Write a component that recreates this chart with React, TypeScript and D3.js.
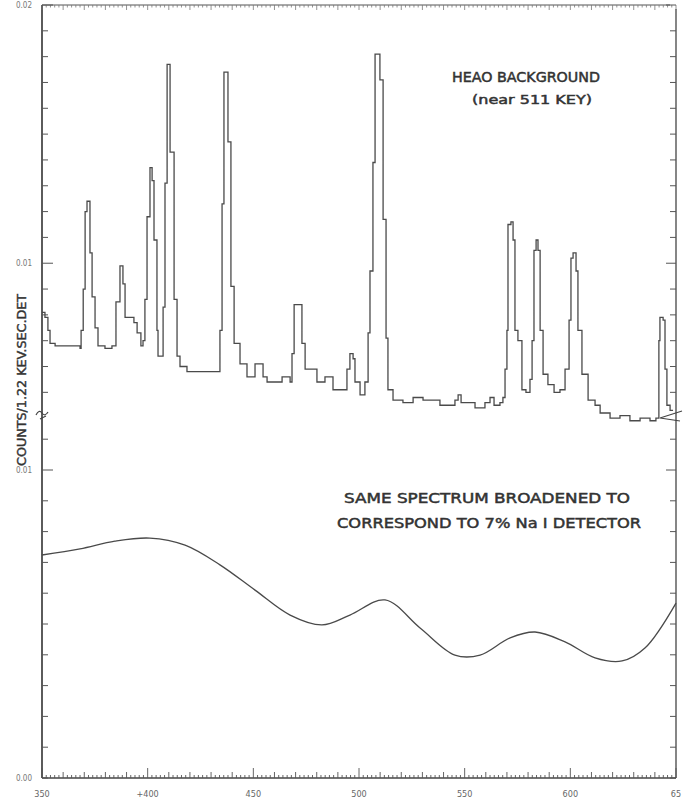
import React, { useEffect, useRef } from "react";
import * as d3 from "d3";

const W = 688;
const H = 803;

// HEAO raw background spectrum (upper trace)
const rawKeV = [
  350.0, 351.4, 352.8, 353.8, 356.2, 368.0, 368.5, 369.5, 370.4, 371.3, 372.7, 373.7, 375.1, 376.5,
  379.8, 383.1, 385.0, 386.9, 388.3, 389.3, 391.6, 393.5, 395.0, 396.8, 397.8, 398.7, 399.7, 401.1,
  402.1, 403.0, 404.4, 404.9, 406.8, 407.3, 408.2, 409.2, 410.1, 410.6, 412.5, 413.9, 415.3, 418.6,
  432.8, 434.2, 435.2, 436.1, 437.5, 438.0, 439.4, 440.9, 443.7, 447.0, 449.4, 450.8, 453.2, 454.6,
  456.5, 463.6, 467.4, 468.3, 469.3, 472.1, 473.0, 474.5, 480.1, 483.9, 487.7, 492.4, 494.3, 495.7,
  497.2, 498.1, 500.5, 502.8, 504.3, 505.2, 506.6, 507.6, 509.0, 509.9, 511.4, 512.8, 513.7, 516.1,
  520.8, 525.6, 530.3, 538.3, 543.1, 545.4, 546.9, 548.3, 554.9, 559.6, 562.0, 563.9, 566.7, 568.1,
  569.1, 570.0, 570.5, 571.9, 572.9, 573.8, 575.2, 577.1, 579.0, 580.9, 581.9, 582.8, 583.8, 584.7,
  585.7, 587.1, 589.4, 592.3, 595.1, 597.5, 599.4, 600.3, 601.3, 602.7, 603.6, 605.5, 608.4, 611.7,
  614.1, 618.8, 623.5, 628.2, 633.0, 637.7, 640.5, 641.9, 642.4, 643.9, 644.8, 645.7, 647.2, 648.6,
];
const rawCounts = [
  0.0081, 0.0079, 0.0074, 0.0069, 0.0068, 0.0067, 0.0074, 0.0090, 0.0120, 0.0124, 0.0104, 0.0087, 0.0075, 0.0068,
  0.0067, 0.0068, 0.0085, 0.0099, 0.0092, 0.0079, 0.0079, 0.0077, 0.0073, 0.0068, 0.0070, 0.0086, 0.0118, 0.0137,
  0.0132, 0.0109, 0.0074, 0.0064, 0.0064, 0.0083, 0.0131, 0.0177, 0.0177, 0.0143, 0.0086, 0.0064, 0.0060, 0.0058,
  0.0058, 0.0074, 0.0123, 0.0174, 0.0174, 0.0147, 0.0091, 0.0069, 0.0061, 0.0056, 0.0056, 0.0061, 0.0061, 0.0056,
  0.0054, 0.0056, 0.0054, 0.0065, 0.0084, 0.0084, 0.0069, 0.0059, 0.0054, 0.0056, 0.0051, 0.0051, 0.0059, 0.0065,
  0.0063, 0.0054, 0.0049, 0.0054, 0.0073, 0.0097, 0.0139, 0.0181, 0.0181, 0.0171, 0.0117, 0.0071, 0.0051, 0.0047,
  0.0046, 0.0048, 0.0047, 0.0045, 0.0045, 0.0047, 0.0049, 0.0046, 0.0044, 0.0046, 0.0048, 0.0045, 0.0046, 0.0048,
  0.0059, 0.0074, 0.0115, 0.0116, 0.0109, 0.0074, 0.0070, 0.0051, 0.0050, 0.0055, 0.0070, 0.0105, 0.0109, 0.0105,
  0.0074, 0.0057, 0.0053, 0.0050, 0.0051, 0.0059, 0.0078, 0.0102, 0.0104, 0.0097, 0.0074, 0.0057, 0.0047, 0.0045,
  0.0042, 0.0040, 0.0041, 0.0039, 0.0040, 0.0039, 0.0040, 0.0070, 0.0079, 0.0078, 0.0059, 0.0045, 0.0043, 0.0043,
];

// same spectrum broadened to 7% NaI resolution (lower trace)
const broadKeV = [350, 368, 384.5, 401, 417.7, 434.2, 450.8, 467.4, 482.5, 495.7, 512.3, 528.9, 545.4, 557.3, 571.5, 583.3, 597.5, 611.7, 624.5, 635.3, 650];
const broadCounts = [0.00724, 0.00744, 0.00769, 0.00779, 0.00756, 0.00692, 0.0061, 0.00529, 0.00497, 0.00529, 0.00578, 0.00487, 0.00399, 0.00399, 0.00455, 0.00474, 0.00442, 0.0039, 0.0038, 0.00422, 0.00568];

const xTickValues = [350, 400, 450, 500, 550, 600, 650];
const xTickLabels = ["350", "+400", "450", "500", "550", "600", "65"];

const upperLabelValues = [0.01, 0.02];
const upperLabels = ["0.01", "0.02"];
const lowerLabelValues = [0, 0.01];
const lowerLabels = ["0.00", "0.01"];

const ink = "#4a4a4a";
const plotFont = "DejaVu Sans Condensed, DejaVu Sans";

const App = () => {
  const ref = useRef(null);

  useEffect(() => {
    const svg = d3.select(ref.current);
    svg.selectAll("*").remove();

    const left = 42, right = 676, top = 5, bottom = 778, brk = 413;

    const x = d3.scaleLinear().domain([350, 650]).range([left, right]);
    const yUp = d3.scaleLinear().domain([0.0042, 0.02]).range([brk, top]);
    const yLo = d3.scaleLinear().domain([0, 0.01]).range([bottom, 470]);

    const g = svg.append("g");

    // frame
    g.append("line").attr("x1", left).attr("x2", left).attr("y1", top).attr("y2", bottom)
      .attr("stroke", "#333").attr("stroke-width", 1.6);
    g.append("line").attr("x1", right).attr("x2", right).attr("y1", top + 4).attr("y2", bottom)
      .attr("stroke", "#444").attr("stroke-width", 1.3);
    g.append("line").attr("x1", left).attr("x2", right - 6).attr("y1", top).attr("y2", top)
      .attr("stroke", "#555").attr("stroke-width", 1.1);
    g.append("line").attr("x1", left).attr("x2", right).attr("y1", bottom).attr("y2", bottom)
      .attr("stroke", "#444").attr("stroke-width", 1.3);

    // dense keV ticks along bottom and top
    const keVTicks = d3.range(350, 651, 2);
    const tickLen = (v: number) => (v % 50 === 0 ? 10 : v % 10 === 0 ? 6 : 3);
    g.append("g").selectAll("line").data(keVTicks).join("line")
      .attr("x1", d => x(d)).attr("x2", d => x(d))
      .attr("y1", bottom).attr("y2", d => bottom - tickLen(d))
      .attr("stroke", "#555").attr("stroke-width", 0.9);
    g.append("g").selectAll("line").data(keVTicks).join("line")
      .attr("x1", d => x(d)).attr("x2", d => x(d))
      .attr("y1", top).attr("y2", d => top + (d % 10 === 0 ? 5 : 2.5))
      .attr("stroke", "#777").attr("stroke-width", 0.8);

    g.append("g").selectAll("text").data(xTickValues).join("text")
      .attr("x", d => x(d)).attr("y", 797)
      .attr("text-anchor", "middle")
      .attr("font-family", plotFont)
      .attr("font-size", 9).attr("fill", "#666")
      .text((d, i) => xTickLabels[i]);

    // y ticks
    const upTicks = d3.range(5, 21).map(d => d / 1000);
    const loTicks = d3.range(0, 12).map(d => d / 1000);
    const isMajor = (v: number) => Math.abs(v * 100 - Math.round(v * 100)) < 1e-6;

    g.append("g").selectAll("line").data(upTicks).join("line")
      .attr("x1", left).attr("x2", d => left + (isMajor(d) ? 11 : 6))
      .attr("y1", d => yUp(d)).attr("y2", d => yUp(d))
      .attr("stroke", "#555").attr("stroke-width", 1);
    g.append("g").selectAll("line").data(upTicks).join("line")
      .attr("x1", right).attr("x2", d => right - (isMajor(d) ? 10 : 6))
      .attr("y1", d => yUp(d)).attr("y2", d => yUp(d))
      .attr("stroke", "#555").attr("stroke-width", 1);
    g.append("g").selectAll("line").data(loTicks).join("line")
      .attr("x1", left).attr("x2", d => left + (isMajor(d) && d > 0 ? 11 : 6))
      .attr("y1", d => yLo(d)).attr("y2", d => yLo(d))
      .attr("stroke", "#555").attr("stroke-width", 1);
    g.append("g").selectAll("line").data(loTicks).join("line")
      .attr("x1", right).attr("x2", d => right - (isMajor(d) && d > 0 ? 10 : 6))
      .attr("y1", d => yLo(d)).attr("y2", d => yLo(d))
      .attr("stroke", "#555").attr("stroke-width", 1);

    const labelFont = (sel: any) => sel
      .attr("font-family", plotFont)
      .attr("font-size", 8).attr("fill", "#777").attr("text-anchor", "end");
    g.append("g").selectAll("text").data(upperLabelValues).join("text")
      .attr("x", 32).attr("y", d => Math.max(yUp(d) + 3, 8))
      .call(labelFont).text((d, i) => upperLabels[i]);
    g.append("g").selectAll("text").data(lowerLabelValues).join("text")
      .attr("x", 32).attr("y", d => yLo(d) + 3)
      .call(labelFont).text((d, i) => lowerLabels[i]);

    // axis break marks
    g.append("path")
      .attr("d", `M${left - 6},${brk + 2} q3,-6 6,-2 t6,-1 M${left - 2},${brk + 6} l6,-3`)
      .attr("fill", "none").attr("stroke", "#444").attr("stroke-width", 1.2);
    g.append("path")
      .attr("d", `M${right + 6},${brk - 2} L${right - 16},${brk + 5} L${right + 4},${brk + 8}`)
      .attr("fill", "none").attr("stroke", "#444").attr("stroke-width", 1.1);

    // upper: raw spectrum
    const rawLine = d3.line<number>()
      .x((d, i) => x(rawKeV[i]))
      .y(d => yUp(d))
      .curve(d3.curveStepAfter);
    g.append("path")
      .attr("d", rawLine(rawCounts))
      .attr("fill", "none").attr("stroke", ink).attr("stroke-width", 1.3);

    // lower: broadened spectrum
    const broadLine = d3.line<number>()
      .x((d, i) => x(broadKeV[i]))
      .y(d => yLo(d))
      .curve(d3.curveCatmullRom.alpha(0.5));
    g.append("path")
      .attr("d", broadLine(broadCounts))
      .attr("fill", "none").attr("stroke", ink).attr("stroke-width", 1.3);

    // annotations, plotter-ish lettering
    const note = (txt: string, cx: number, cy: number, len: number, size: number) =>
      g.append("text")
        .attr("x", cx).attr("y", cy)
        .attr("text-anchor", "middle")
        .attr("font-family", plotFont)
        .attr("font-size", size).attr("fill", "#333")
        .attr("stroke", "#333").attr("stroke-width", 0.45)
        .attr("textLength", len).attr("lengthAdjust", "spacingAndGlyphs")
        .text(txt);
    note("HEAO BACKGROUND", 526, 82, 148, 14);
    note("(near 511 KEY)", 532, 104, 120, 12.5);
    note("SAME SPECTRUM BROADENED TO", 487, 503, 286, 14);
    note("CORRESPOND TO 7% Na I DETECTOR", 489, 528, 304, 14);

    g.append("text")
      .attr("transform", "translate(26, 380) rotate(-90)")
      .attr("text-anchor", "middle")
      .attr("font-family", plotFont)
      .attr("font-size", 12).attr("fill", "#333")
      .attr("stroke", "#333").attr("stroke-width", 0.4)
      .attr("textLength", 172).attr("lengthAdjust", "spacingAndGlyphs")
      .text("COUNTS/1.22 KEV.SEC.DET");
  }, []);

  return (
    <svg ref={ref} width={W} height={H}
      style={{ position: "absolute", left: 0, top: 0, background: "#fff" }} />
  );
};

export default App;
